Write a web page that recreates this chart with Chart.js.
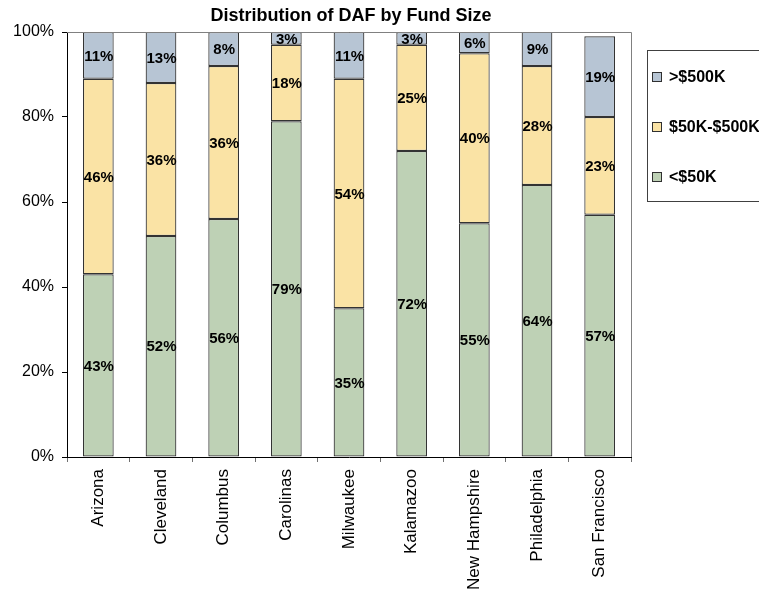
<!DOCTYPE html>
<html>
<head>
<meta charset="utf-8">
<script src="https://cdn.jsdelivr.net/npm/chart.js@4"></script>
<style>
  html, body { margin: 0; padding: 0; background: #fff; }
  canvas { display: block; }
</style>
</head>
<body>
<canvas id="dafChart" width="759" height="591"></canvas>
<script>
const categories = ['Arizona', 'Cleveland', 'Columbus', 'Carolinas', 'Milwaukee', 'Kalamazoo', 'New Hampshire', 'Philadelphia', 'San Francisco'];
const under50k = [43, 52, 56, 79, 35, 72, 55, 64, 57];
const from50kTo500k = [46, 36, 36, 18, 54, 25, 40, 28, 23];
const over500k = [11, 13, 8, 3, 11, 3, 6, 9, 19];
const yTicks = [0, 20, 40, 60, 80, 100];

const FONT = "'Liberation Sans', Arial, sans-serif";
const titleText = 'Distribution of DAF by Fund Size';

// title, frame, segment labels and the boxed legend
const decorations = {
    id: 'decorations',
    afterDatasetsDraw(chart) {
        const ctx = chart.ctx;
        const area = chart.chartArea;
        ctx.save();

        // plot frame (top and right)
        ctx.strokeStyle = '#808080';
        ctx.lineWidth = 1;
        ctx.beginPath();
        ctx.moveTo(area.left, area.top + 0.5);
        ctx.lineTo(area.right + 0.5, area.top + 0.5);
        ctx.lineTo(area.right + 0.5, area.bottom);
        ctx.stroke();

        // percentage labels in the middle of each segment
        ctx.font = 'bold 15px ' + FONT;
        ctx.fillStyle = '#000';
        ctx.textAlign = 'center';
        ctx.textBaseline = 'middle';
        chart.data.datasets.forEach((ds, i) => {
            chart.getDatasetMeta(i).data.forEach((bar, j) => {
                const top = Math.max(bar.y, area.top);
                const mid = (top + bar.base) / 2;
                ctx.fillText(ds.data[j] + '%', bar.x + 0.5, mid + 1);
            });
        });
        ctx.restore();
    },
    afterDraw(chart) {
        const ctx = chart.ctx;
        const area = chart.chartArea;
        ctx.save();

        ctx.font = 'bold 18px ' + FONT;
        ctx.fillStyle = '#000';
        ctx.textAlign = 'center';
        ctx.textBaseline = 'middle';
        ctx.fillText(titleText, (area.left + area.right) / 2 + 2, 16);

        // legend box
        const bx = 647.5, by = 50.5;
        ctx.strokeStyle = '#404040';
        ctx.lineWidth = 1;
        ctx.strokeRect(bx, by, 140, 151);

        ctx.font = 'bold 16px ' + FONT;
        ctx.textAlign = 'left';
        const rows = [77, 127, 177];
        const order = chart.data.datasets.slice().reverse();
        order.forEach((ds, k) => {
            const y = rows[k];
            ctx.fillStyle = ds.backgroundColor;
            ctx.fillRect(652.5, y - 4.5, 9, 9);
            ctx.strokeStyle = '#303030';
            ctx.strokeRect(652.5, y - 4.5, 9, 9);
            ctx.fillStyle = '#000';
            ctx.fillText(ds.label, 669, y + 1);
        });
        ctx.restore();
    }
};

const ctx = document.getElementById('dafChart').getContext('2d');
const dafChart = new Chart(ctx, {
    type: 'bar',
    data: {
        labels: categories,
        datasets: [
            { label: '<$50K', data: under50k, backgroundColor: 'rgb(190, 209, 181)' },
            { label: '$50K-$500K', data: from50kTo500k, backgroundColor: 'rgb(250, 227, 165)' },
            { label: '>$500K', data: over500k, backgroundColor: 'rgb(183, 197, 212)' }
        ]
    },
    options: {
        responsive: false,
        animation: false,
        layout: { padding: { top: 32, right: 128, left: 0, bottom: 0 } },
        datasets: {
            bar: {
                borderColor: '#333333',
                borderWidth: 1.2,
                borderSkipped: false,
                categoryPercentage: 1,
                barPercentage: 0.49
            }
        },
        scales: {
            x: {
                stacked: true,
                grid: { drawOnChartArea: false, tickLength: 5, color: '#707070' },
                border: { color: '#000', width: 1 },
                ticks: {
                    color: '#000',
                    font: { family: FONT, size: 17 },
                    minRotation: 90,
                    maxRotation: 90,
                    autoSkip: false,
                    padding: 7
                },
                afterFit(scale) { scale.height = 134; }
            },
            y: {
                stacked: true,
                min: 0,
                max: 100,
                grid: { drawOnChartArea: false, tickLength: 5, color: '#000' },
                border: { color: '#000', width: 1 },
                ticks: {
                    color: '#000',
                    font: { family: FONT, size: 16 },
                    padding: 8,
                    callback: v => v + '%'
                },
                afterBuildTicks(scale) { scale.ticks = yTicks.map(v => ({ value: v })); },
                afterFit(scale) { scale.width = 67; }
            }
        },
        plugins: {
            legend: { display: false },
            title: { display: false },
            tooltip: { enabled: false }
        }
    },
    plugins: [decorations]
});
</script>
</body>
</html>
